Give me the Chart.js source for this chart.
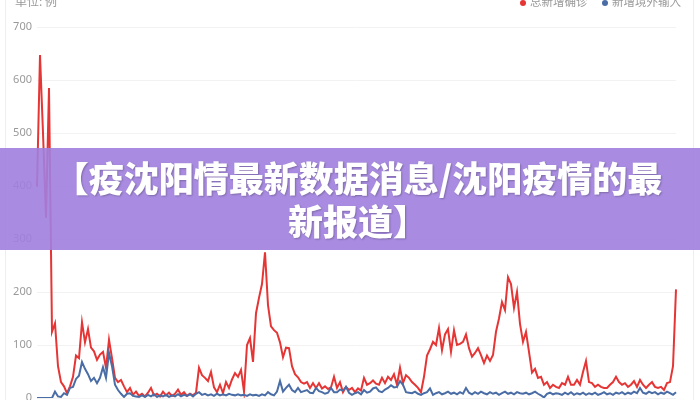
<!DOCTYPE html>
<html lang="zh">
<head>
    <meta charset="UTF-8">
    <title>沈阳疫情</title>
    <script src="https://cdn.jsdelivr.net/npm/chart.js"></script>
    <style>
        body { margin: 0; background: #fff; font-family: "Noto Sans CJK SC", "Noto Sans", sans-serif; }
        #wrap { position: relative; width: 700px; height: 400px; overflow: hidden; }
        #card { position: absolute; left: 5px; top: -10px; width: 687px; height: 420px; border-left: 1px solid #eee; border-right: 1px solid #eee; }
        #unit { position: absolute; left: 15px; top: -8px; font-size: 12px; color: #999; }
        .leg { position: absolute; top: -7px; font-size: 11.5px; color: #999; white-space: nowrap; }
        .dot { position: absolute; top: 0px; width: 6px; height: 6px; border-radius: 50%; }
        #banner { position: absolute; left: 0; top: 148px; width: 700px; height: 102px; background: rgba(160, 128, 222, 0.9);
                  color: #fff; font-weight: 900; font-size: 35px; line-height: 43px; text-align: center; box-sizing: border-box;
                  padding: 7px 22px 0 38px; text-shadow: 1px 1px 2px rgba(0,0,0,0.25); }
    </style>
</head>
<body>
<div id="wrap">
    <div id="card"></div>
    <canvas id="chart" width="700" height="400"></canvas>
    <div id="unit">单位: 例</div>
    <div class="dot" style="left:520px; background:#e53535;"></div>
    <div class="leg" style="left:530px;">总新增确诊</div>
    <div class="dot" style="left:602px; background:#4a6da6;"></div>
    <div class="leg" style="left:612px;">新增境外输入</div>
    <div id="banner">【疫沈阳情最新数据消息/沈阳疫情的最新报道】</div>
</div>
<script>
    // daily values
    const totalNew = [
        399, 647, 500, 340, 585, 125, 141, 60, 30, 22,
        9, 22, 40, 80, 75, 143, 105, 130, 95, 88,
        72, 82, 87, 57, 110, 75, 38, 30, 34, 22,
        11, 19, 6, 12, 4, 8, 3, 10, 19, 5,
        8, 3, 12, 5, 10, 4, 8, 16, 6, 11,
        4, 8, 5, 10, 57, 43, 38, 32, 49, 20,
        11, 25, 9, 30, 19, 35, 47, 40, 53, 12,
        100, 113, 68, 160, 189, 215, 275, 175, 135, 128,
        123, 105, 77, 95, 94, 60, 45, 39, 30, 27,
        30, 19, 28, 19, 28, 18, 22, 17, 20, 40,
        19, 30, 11, 21, 15, 19, 11, 18, 14, 38,
        25, 28, 33, 27, 25, 38, 28, 40, 34, 45,
        25, 57, 28, 43, 38, 30, 25, 19, 11, 40,
        80, 92, 106, 100, 132, 90, 120, 130, 87, 128,
        100, 102, 106, 120, 94, 78, 85, 94, 81, 66,
        80, 70, 81, 125, 150, 181, 166, 228, 215, 170,
        200, 140, 106, 125, 87, 48, 55, 38, 40, 25,
        30, 19, 25, 21, 19, 28, 25, 40, 25, 25,
        34, 25, 49, 70, 30, 28, 21, 25, 21, 19,
        19, 25, 30, 40, 30, 25, 28, 21, 25, 32,
        21, 34, 25, 19, 25, 30, 21, 19, 21, 15,
        28, 30, 60, 205
    ];
    const importedNew = [
        0, 0, 0, 0, 0, 0, 12, 3, 2, 9,
        6, 19, 21, 36, 42, 68, 55, 45, 32, 38,
        28, 38, 58, 38, 85, 60, 25, 15, 8, 2,
        8, 9, 4, 3, 2, 5, 2, 6, 3, 7,
        2, 5, 3, 6, 2, 5, 3, 7, 3, 6,
        4, 7, 3, 8, 11, 6, 8, 5, 7, 4,
        8, 5, 7, 5, 8, 6, 5, 7, 5, 6,
        4, 7, 5, 6, 4, 7, 5, 11, 7, 5,
        12, 32, 12, 19, 25, 15, 11, 19, 11, 13,
        15, 10, 9, 19, 13, 11, 8, 10, 19, 11,
        11, 16, 14, 21, 10, 6, 9, 11, 7, 15,
        10, 12, 18, 20, 13, 11, 16, 19, 24, 20,
        21, 32, 25, 11, 10, 9, 12, 8, 6, 9,
        11, 18, 6, 9, 11, 7, 9, 12, 8, 10,
        7, 11, 8, 19, 10, 7, 11, 8, 12, 9,
        7, 11, 8, 10, 6, 9, 12, 8, 10, 7,
        11, 9, 8, 10, 7, 9, 12, 8, 5, 1,
        8, 10, 7, 9, 8, 6, 10, 7, 11, 6,
        9, 7, 10, 6, 9, 7, 10, 6, 8, 11,
        7, 9, 6, 10, 8, 11, 7, 10, 8, 12,
        9, 19, 10, 8, 12, 9, 11, 7, 10, 8,
        12, 9, 6, 11
    ];
    const dayLabels = totalNew.map((v, i) => String(i + 1));
    const yTicks = [0, 100, 200, 300, 400, 500, 600, 700];

    const ctx = document.getElementById('chart').getContext('2d');
    new Chart(ctx, {
        type: 'line',
        data: {
            labels: dayLabels,
            datasets: [{
                label: '总新增确诊',
                data: totalNew,
                borderColor: '#e53535',
                borderWidth: 2,
                pointRadius: 0,
                tension: 0,
                order: 1
            }, {
                label: '新增境外输入',
                data: importedNew,
                borderColor: '#4a6da6',
                borderWidth: 2,
                pointRadius: 0,
                tension: 0,
                order: 0
            }]
        },
        options: {
            responsive: false,
            animation: false,
            layout: { padding: { top: 27, bottom: 2, left: 0, right: 24 } },
            plugins: { legend: { display: false }, tooltip: { enabled: false } },
            scales: {
                x: { display: false },
                y: {
                    min: 0,
                    max: 700,
                    afterFit: scale => {
                        scale.width = 37;
                        // let the 0 label hang below the plot like the original
                        scale.paddingTop = 0;
                        scale.paddingBottom = 0;
                    },
                    afterBuildTicks: scale => { scale.ticks = yTicks.map(v => ({ value: v })); },
                    border: { display: false },
                    grid: { color: '#f2f2f2', drawTicks: false },
                    ticks: { color: '#999', padding: 5, font: { size: 11, family: 'Noto Sans' } }
                }
            }
        }
    });
</script>
</body>
</html>
